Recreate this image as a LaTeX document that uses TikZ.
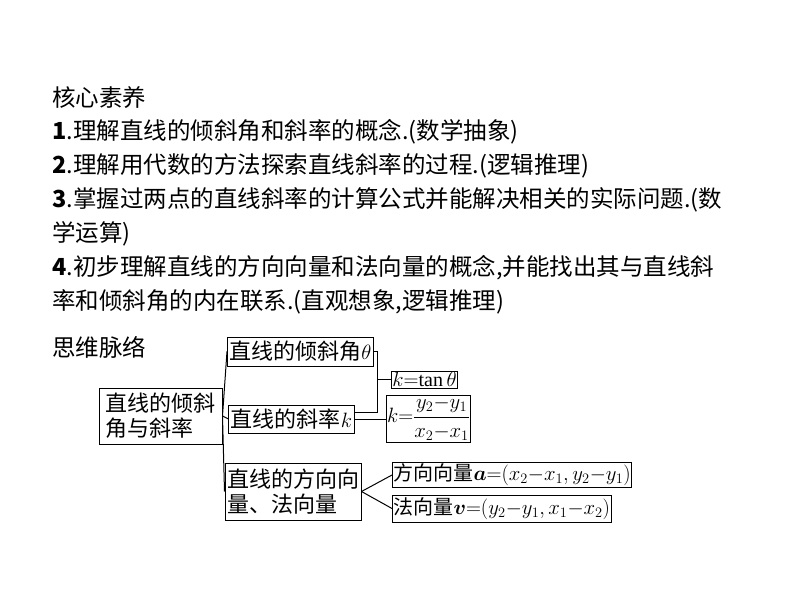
\documentclass[tikz,border=0pt]{standalone}
\usepackage{amsmath}
\usepackage{fontspec}
\usepackage{bm}
\setmainfont{Liberation Serif}
\newfontfamily\cjk{Noto Sans CJK SC}
\begin{document}
\begin{tikzpicture}[x=1pt,y=-1pt,
  txt/.style={anchor=west,inner sep=0pt,font=\fontsize{23.5}{26}\selectfont\cjk},
  bx/.style={draw,line width=1pt,inner sep=2pt,font=\fontsize{22}{25}\selectfont\cjk,align=left},
  mb/.style={draw,line width=1pt,inner sep=1pt,font=\fontsize{20}{22}\selectfont\cjk},
  ln/.style={line width=1pt}]
\useasboundingbox (0,0) rectangle (794,596);
\node[txt] (t0) at (52,98) {核心素养};
\node[txt] (t1) at (52,132) {\textbf{1}.理解直线的倾斜角和斜率的概念.(数学抽象)};
\node[txt] (t2) at (52,166) {\textbf{2}.理解用代数的方法探索直线斜率的过程.(逻辑推理)};
\node[txt] (t3) at (52,200) {\textbf{3}.掌握过两点的直线斜率的计算公式并能解决相关的实际问题.(数};
\node[txt] (t4) at (52,234) {学运算)};
\node[txt] (t5) at (52,268) {\textbf{4}.初步理解直线的方向向量和法向量的概念,并能找出其与直线斜};
\node[txt] (t6) at (52,302) {率和倾斜角的内在联系.(直观想象,逻辑推理)};
\node[txt] (t7) at (52,347) {思维脉络};
\node[bx,minimum width=123,minimum height=56] (r) at (160.5,416) {直线的倾斜\\角与斜率};
\node[bx,minimum width=135,minimum height=29] (a) at (300.5,351.5) {直线的倾斜角$\theta$};
\node[bx,minimum width=117,minimum height=28] (b) at (291.5,419) {直线的斜率$k$};
\node[bx,minimum width=120,minimum height=57] (c) at (293,491.5) {直线的方向向\\量、法向量};
\node[mb,minimum width=65,minimum height=17] (d) at (424.5,379.5) {$k{=}\mathrm{tan}\,\theta$};
\node[mb,minimum width=73,minimum height=47] (e) at (428.5,418.5) {$k{=}\dfrac{y_2{-}y_1}{x_2{-}x_1}$};
\node[mb,minimum width=208,minimum height=24,anchor=west] (f) at (392,475) {方向向量$\bm{a}{=}(x_2{-}x_1,y_2{-}y_1)$};
\node[mb,minimum width=201,minimum height=27,anchor=west] (g) at (392,508.5) {法向量$\bm{v}{=}(y_2{-}y_1,x_1{-}x_2)$};
\draw[ln] (r.east) -- (a.west);
\draw[ln] (r.east) -- (b.west);
\draw[ln] (r.east) -- (c.west);
\coordinate (k1) at (377,412);
\draw[ln] (a.east) -| (k1) -- (b.east |- k1);
\draw[ln] (377,379.5) -- (d.west);
\draw[ln] (b.east) -- (e.west |- b.east);
\draw[ln] (c.east) -- (f.west);
\draw[ln] (c.east) -- (g.west);
\end{tikzpicture}
\end{document}
